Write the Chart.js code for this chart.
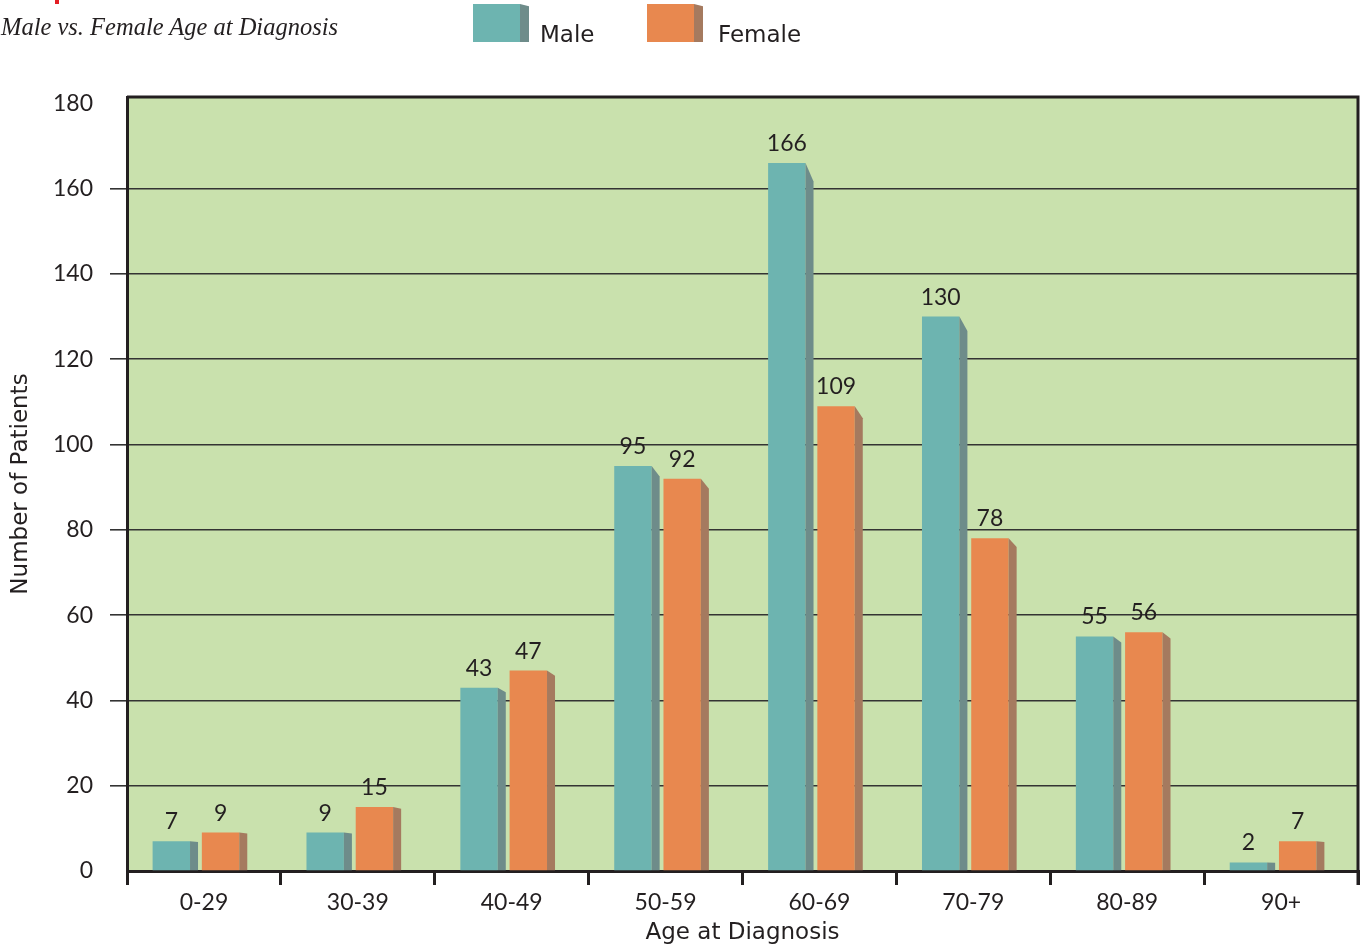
<!DOCTYPE html>
<html>
<head>
<meta charset="utf-8">
<title>Male vs. Female Age at Diagnosis</title>
<script src="https://cdn.jsdelivr.net/npm/chart.js@4.4.1/dist/chart.umd.min.js"></script>
<style>
  html, body { margin: 0; padding: 0; background: #fff; }
  #wrap { position: relative; width: 1366px; height: 946px; overflow: hidden; }
  #chart { position: absolute; left: 0; top: 0; }
  .redmark { position: absolute; left: 55px; top: 0; width: 4px; height: 4px; background: #e31e24; }
  .title { position: absolute; left: 1px; top: 13px; font: italic 24.5px "Liberation Serif", serif; color: #231f20; white-space: nowrap; }
  .legend-item { position: absolute; top: 4px; height: 40px; }
  .legend-box { position: absolute; left: 0; top: 0; width: 47px; height: 38px; }
  .legend-side { position: absolute; top: 0; width: 9px; height: 38px; clip-path: polygon(0 0, 100% 6%, 100% 100%, 0 100%); }
  .legend-text { position: absolute; top: 19px; font: 23px "DejaVu Sans", sans-serif; line-height: 23px; color: #231f20; white-space: nowrap; }
</style>
</head>
<body>
<div id="wrap">
  <canvas id="chart" width="1366" height="946"></canvas>
  <div class="redmark"></div>
  <div class="title">Male vs. Female Age at Diagnosis</div>
  <div id="legend"></div>
</div>
<script>
// 年齢区分と患者数
const categories = ['0-29', '30-39', '40-49', '50-59', '60-69', '70-79', '80-89', '90+'];
const maleCounts = [7, 9, 43, 95, 166, 130, 55, 2];
const femaleCounts = [9, 15, 47, 92, 109, 78, 56, 7];
const yTicks = [0, 20, 40, 60, 80, 100, 120, 140, 160, 180];

const TEXT = '#231f20';
const GRID = '#333333';
const PLOT_BG = '#c9e1ad';
const MALE = '#6db4b0';
const MALE_SIDE = '#6e8c8a';
const FEMALE = '#e8884f';
const FEMALE_SIDE = '#a57a5f';
const FONT = { family: 'Lato, sans-serif', size: 23 };                 // 数字用
const WORD_FONT = { family: '"DejaVu Sans", sans-serif', size: 23 };   // 軸タイトル用
const SIDE_W = 8;        // 棒の側面の幅
const GROUP_SHIFT = -8;  // 棒グループを左に寄せる量

/**
 * プロット領域の背景と上・右の枠
 */
const plotFrame = {
  id: 'plotFrame',
  beforeDraw(chart) {
    const { ctx, chartArea: a } = chart;
    ctx.save();
    ctx.fillStyle = PLOT_BG;
    ctx.fillRect(a.left, a.top, a.right - a.left, a.bottom - a.top);
    ctx.restore();
  },
  afterDraw(chart) {
    const { ctx, chartArea: a } = chart;
    ctx.save();
    ctx.strokeStyle = TEXT;
    ctx.lineWidth = 3;
    ctx.beginPath();
    ctx.moveTo(a.left, a.top);
    ctx.lineTo(a.right, a.top);
    ctx.lineTo(a.right, a.bottom + 14);
    ctx.stroke();
    ctx.restore();
  }
};

/**
 * 棒の立体側面と値ラベル
 */
const bars3d = {
  id: 'bars3d',
  beforeDatasetsDraw(chart) {
    chart.ctx.save();
    chart.ctx.translate(GROUP_SHIFT, 0);
  },
  afterDatasetsDraw(chart) {
    const ctx = chart.ctx;
    chart.data.datasets.forEach((ds, i) => {
      const meta = chart.getDatasetMeta(i);
      meta.data.forEach((bar, j) => {
        const right = bar.x + bar.width / 2;
        const dy = (bar.base - bar.y) * 0.026;
        ctx.fillStyle = ds.sideColor;
        ctx.beginPath();
        ctx.moveTo(right, bar.y);
        ctx.lineTo(right + SIDE_W, bar.y + dy);
        ctx.lineTo(right + SIDE_W, bar.base);
        ctx.lineTo(right, bar.base);
        ctx.closePath();
        ctx.fill();

        ctx.fillStyle = TEXT;
        ctx.font = `${FONT.size}px ${FONT.family}`;
        ctx.textAlign = 'center';
        ctx.textBaseline = 'alphabetic';
        ctx.fillText(String(ds.data[j]), bar.x, bar.y - 12);
      });
    });
    ctx.restore();
  }
};

const datasets = [
  { label: 'Male', data: maleCounts, backgroundColor: MALE, sideColor: MALE_SIDE },
  { label: 'Female', data: femaleCounts, backgroundColor: FEMALE, sideColor: FEMALE_SIDE }
];

new Chart(document.getElementById('chart').getContext('2d'), {
  type: 'bar',
  data: {
    labels: categories,
    datasets: datasets.map(d => Object.assign({
      borderWidth: 0,
      categoryPercentage: 0.64,
      barPercentage: 0.76
    }, d))
  },
  options: {
    responsive: false,
    animation: false,
    layout: { padding: { left: 0, right: 8, top: 97, bottom: 0 } },
    plugins: {
      legend: { display: false },
      tooltip: { enabled: false }
    },
    scales: {
      x: {
        offset: true,
        afterFit(axis) { axis.height = 75; },
        grid: {
          offset: true,
          drawOnChartArea: false,
          color: TEXT,
          lineWidth: 3,
          tickLength: 14
        },
        border: { color: TEXT, width: 3 },
        ticks: { color: TEXT, font: FONT, padding: 4, maxRotation: 0 },
        title: {
          display: true,
          text: 'Age at Diagnosis',
          color: TEXT,
          font: WORD_FONT,
          padding: { top: 0, bottom: -1 }
        }
      },
      y: {
        min: 0,
        max: 181.5,
        afterBuildTicks(axis) { axis.ticks = yTicks.map(v => ({ value: v })); },
        afterFit(axis) { axis.width = 127; },
        grid: {
          color: c => (c.tick && (c.tick.value === 0 || c.tick.value === 180)) ? 'rgba(0,0,0,0)' : GRID,
          lineWidth: 1.6,
          tickLength: 17
        },
        border: { color: TEXT, width: 3 },
        ticks: { color: TEXT, font: FONT, padding: 17 },
        title: {
          display: true,
          text: 'Number of Patients',
          color: TEXT,
          font: WORD_FONT,
          padding: { top: 7, bottom: 0 }
        }
      }
    }
  },
  plugins: [plotFrame, bars3d]
});

// 凡例（立体ボックス付き）
const legendPos = [473, 647];
const legendEl = document.getElementById('legend');
datasets.forEach((d, i) => {
  const item = document.createElement('div');
  item.className = 'legend-item';
  item.style.left = legendPos[i] + 'px';
  item.innerHTML =
    `<div class="legend-box" style="background:${d.backgroundColor}"></div>` +
    `<div class="legend-side" style="left:47px;background:${d.sideColor}"></div>` +
    `<div class="legend-text" style="left:${i === 0 ? 67 : 71}px">${d.label}</div>`;
  legendEl.appendChild(item);
});
</script>
</body>
</html>
